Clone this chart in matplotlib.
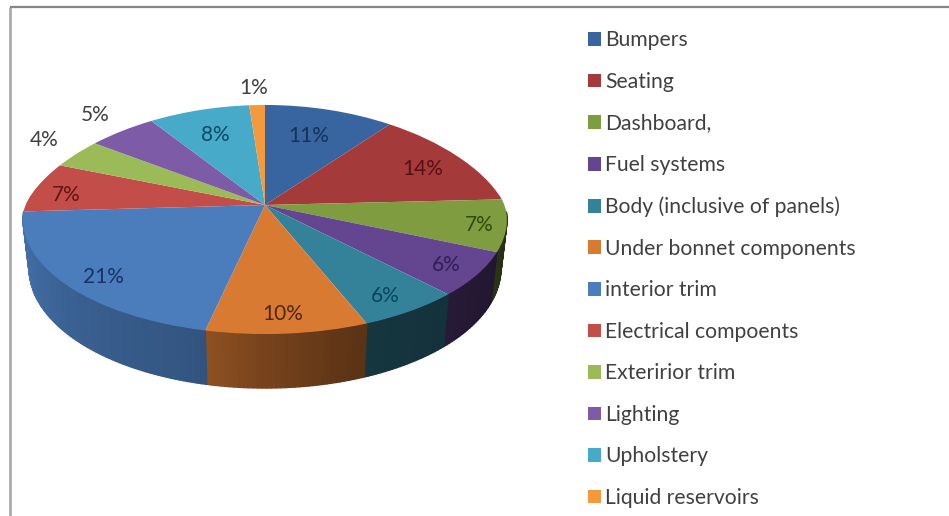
#!/usr/bin/env python
"""
    Tilted pie chart of plastic use by car component
"""

import matplotlib
matplotlib.use('Agg')
import matplotlib.pyplot as plt
import matplotlib.transforms as mtransforms
import matplotlib.colors as mcolors
import numpy as np

# === data
components = ['Bumpers', 'Seating', 'Dashboard,', 'Fuel systems', 'Body (inclusive of panels)',
              'Under bonnet components', 'interior trim', 'Electrical compoents', 'Exteririor trim',
              'Lighting', 'Upholstery', 'Liquid reservoirs']
shares = [10.6, 13.6, 7.3, 6.3, 6.1, 9.6, 20.6, 6.9, 4.0, 5.4, 8.3, 1.3]
colors = ['#38659f', '#a53a3a', '#7f9c40', '#644590', '#348299', '#d97a33',
          '#4b7dbd', '#c34d49', '#9bbb59', '#7d5ba6', '#46aac8', '#f59a3c']
label_colors = ['#14325a', '#5a0f14', '#2d4b0a', '#321e55', '#0a465a', '#50280a',
                '#143264', '#641414', '#404040', '#404040', '#0a4b64', '#404040']
label_xy = [(309, 136), (423, 169), (479, 225), (446, 265), (385, 296), (283, 314),
            (103, 277), (66, 195), (44, 140), (95, 115), (215, 135), (254, 88)]

# --- wall brightness against clockwise angle from the top
shade_angle = [90, 110, 135, 160, 180, 195, 230, 270]
shade_value = [0.30, 0.33, 0.38, 0.42, 0.55, 0.68, 0.78, 0.95]

# --- pie geometry in pixels
CX, CY = 265, 205
RX, RY = 240, 112.7
CUT_Y, CUT_X = 0.1266, 0.24


# === perspective of the pie top
class Tilt(mtransforms.Transform):
    input_dims = 2
    output_dims = 2

    def transform_non_affine(self, xy):
        xy = np.asarray(xy, dtype=float)
        x, y = xy[:, 0], xy[:, 1]
        wy = 1 + CUT_Y * y
        wx = np.where(y > 0, 1 + CUT_X * y, wy)
        return np.column_stack((CX + RX * x / wx, CY - RY * y / wy))


# === side wall of one wedge, in thin strips
def draw_wall(ax, wedge, tilt):
    angs = np.arange(wedge.theta1, wedge.theta2 + 1, 1.0)
    angs[-1] = wedge.theta2
    for a0, a1 in zip(angs[:-1], angs[1:]):
        t = np.radians([a0, a1])
        if np.sin(t).mean() > -0.06:
            continue
        rim = tilt.transform_non_affine(np.column_stack((np.cos(t), np.sin(t))))
        drop = 48 - 6 * np.sin(t)
        low_x = CX + (rim[:, 0] - CX) * 0.975
        low_y = rim[:, 1] + drop
        clock = (90 - 0.5 * (a0 + a1)) % 360
        shade = np.interp(clock, shade_angle, shade_value)
        col = np.array(mcolors.to_rgb(wedge.get_facecolor())) * shade
        ax.fill(np.r_[rim[:, 0], low_x[::-1]], np.r_[rim[:, 1], low_y[::-1]],
                color=col, lw=1.0, zorder=1)


fig = plt.figure(figsize=(9.49, 5.16), dpi=100)
plt.rc('font', family='Lato')
ax = fig.add_axes([0, 0, 1, 1])

# --- pie top
wedges, _ = ax.pie(shares, colors=colors, startangle=90, counterclock=False,
                   wedgeprops={'linewidth': 0, 'zorder': 2})
tilt = Tilt()
for w in wedges:
    w.set_transform(tilt + ax.transData)
ax.set_aspect('auto')
ax.set_xlim(0, 949)
ax.set_ylim(516, 0)
ax.axis('off')

# --- side wall
for w in wedges:
    draw_wall(ax, w, tilt)

# --- percent labels
for s, (x, y), c in zip(shares, label_xy, label_colors):
    ax.text(x, y, '%.0f%%' % s, color=c, fontsize=15, ha='center', va='center', zorder=3)

# --- legend
ax.legend(wedges, components, loc='upper left', bbox_to_anchor=(588, 30.5),
          bbox_transform=ax.transData, frameon=False, fontsize=15.2, borderpad=0,
          borderaxespad=0, handlelength=0.62, handleheight=0.62, handletextpad=0.2,
          labelspacing=1.02, labelcolor='#404040')

# --- picture frame
ax.plot([10, 10], [7, 516], color='#ababab', lw=2, solid_capstyle='butt', zorder=4)
ax.plot([10, 949], [7, 7], color='#858585', lw=1.6, solid_capstyle='butt', zorder=4)

plt.savefig('out.png', dpi=100)
